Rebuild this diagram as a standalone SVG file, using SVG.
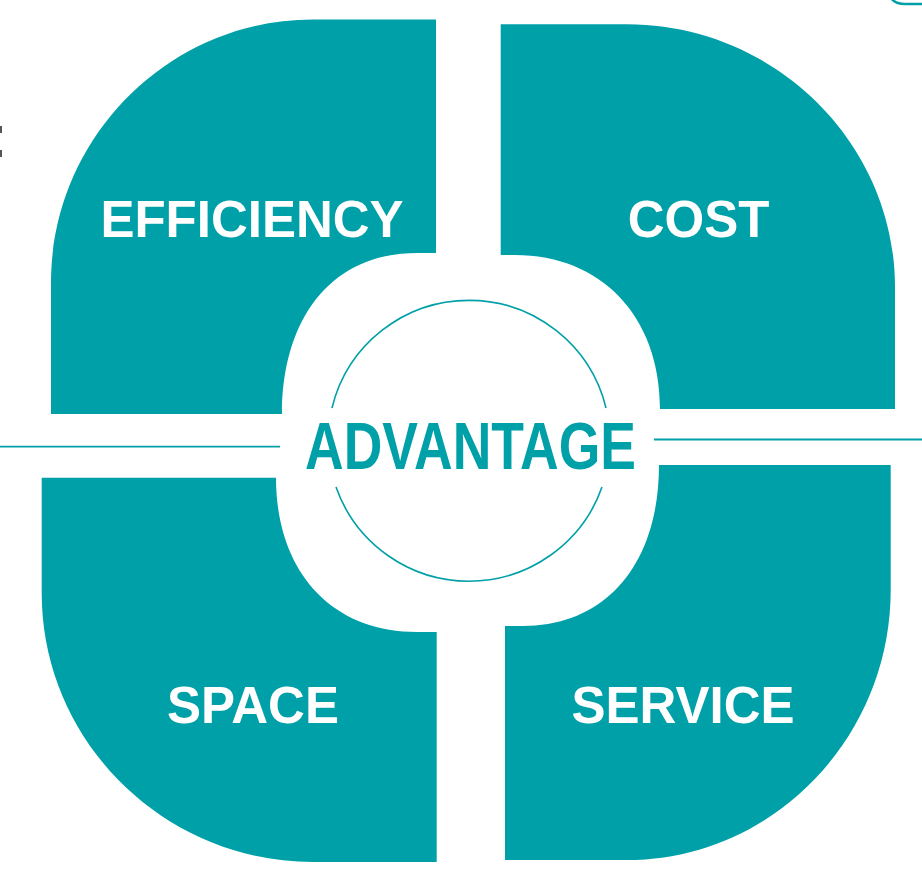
<svg xmlns="http://www.w3.org/2000/svg" width="922" height="874" viewBox="0 0 922 874">
  <style>
    .quad { fill: #00A0A8; }
    .label { fill: #ffffff; font-family: "Liberation Sans", Arial, sans-serif; font-weight: bold; font-size: 51px; text-anchor: middle; }
    .center-label { fill: #00A0A8; font-family: "Liberation Sans", Arial, sans-serif; font-weight: bold; font-size: 66px; text-anchor: middle; }
    .ring { fill: none; stroke: #00A0A8; stroke-width: 1.6; }
    .conn { fill: none; stroke: #00A0A8; stroke-width: 1.8; }
  </style>
  <rect width="922" height="874" fill="#ffffff"/>

  <!-- edge fragments -->
  <rect x="0" y="126" width="2" height="7" fill="#555555"/>
  <rect x="0" y="150" width="2" height="7" fill="#555555"/>
  <path d="M 891 -2 Q 895 4 905 4 L 922 4" fill="none" stroke="#00A0A8" stroke-width="2.6"/>

  <g id="efficiency">
    <path class="quad" d="M 51 414 L 51 283 C 51 138 169 19.5 313 19.5 L 436 19.5 L 436 253 L 417 253 C 330 253 282 320 282 414 Z"/>
    <text class="label" x="252" y="237">EFFICIENCY</text>
  </g>

  <g id="cost">
    <path class="quad" d="M 500.7 24.3 L 627 24.3 C 774 24.3 895 142.5 895 287 L 895 409 L 660 409 C 660 315 600 255 515 255 L 500.7 255 Z"/>
    <text class="label" x="698.5" y="237">COST</text>
  </g>

  <g id="space">
    <path class="quad" d="M 41.7 477.7 L 276 477.7 C 276 570 330 632 417 632 L 436.7 632 L 436.7 862 L 313 862 C 163.8 862 41.7 741 41.7 593 Z"/>
    <text class="label" x="253" y="723">SPACE</text>
  </g>

  <g id="service">
    <path class="quad" d="M 659 465 L 890.7 465 L 890.7 590 C 890.7 738.5 772 860 627 860 L 505 860 L 505 626 L 523 626 C 605 626 659 565 659 465 Z"/>
    <text class="label" x="683" y="723">SERVICE</text>
  </g>

  <g id="connectors">
    <line class="conn" x1="0" y1="446.7" x2="280" y2="446.7"/>
    <line class="conn" x1="654" y1="439.5" x2="922" y2="439.5"/>
  </g>

  <g id="advantage">
    <path class="ring" d="M 332 408 A 141 141 0 0 1 606 408"/>
    <path class="ring" d="M 336 487 A 141 141 0 0 0 602 487"/>
    <text class="center-label" x="470.5" y="469" textLength="331" lengthAdjust="spacingAndGlyphs">ADVANTAGE</text>
  </g>
</svg>
